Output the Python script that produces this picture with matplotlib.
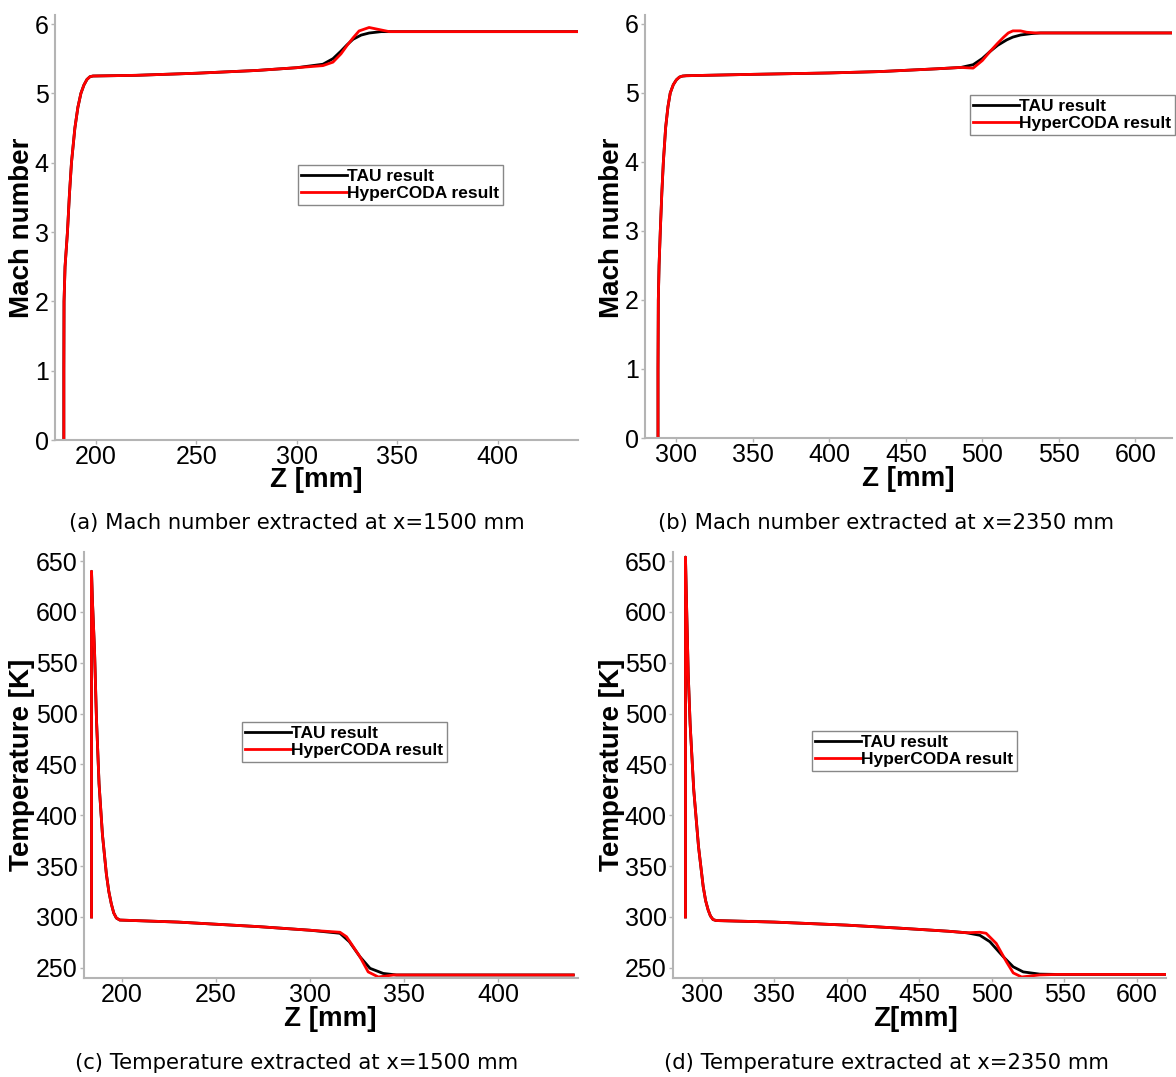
import matplotlib
matplotlib.use("Agg")
import matplotlib.pyplot as plt

# ---------------- data ----------------
# (a) Mach number at x=1500 mm
za_tau = [184, 184, 184.1, 184.6, 185.8, 186.8, 187.8, 189.5, 191, 192.5, 194, 195.5, 197, 198.5,
          220, 250, 280, 300, 313, 318, 322, 325, 328, 332, 336, 342, 350, 440]
ma_tau = [0, 1.0, 2.0, 2.5, 3.0, 3.55, 4.0, 4.5, 4.8, 5.0, 5.12, 5.2, 5.24, 5.25,
          5.26, 5.29, 5.33, 5.37, 5.42, 5.50, 5.61, 5.70, 5.78, 5.84, 5.87, 5.89, 5.89, 5.89]
za_hc = [184, 184, 184.1, 184.6, 185.8, 186.8, 187.8, 189.5, 191, 192.5, 194, 195.5, 197, 198.5,
         220, 250, 280, 300, 313, 318, 322, 325, 328, 331, 336, 341, 346, 440]
ma_hc = [0, 1.0, 2.0, 2.5, 3.0, 3.55, 4.0, 4.5, 4.8, 5.0, 5.12, 5.2, 5.24, 5.25,
         5.26, 5.29, 5.33, 5.37, 5.40, 5.45, 5.57, 5.69, 5.80, 5.90, 5.95, 5.92, 5.89, 5.89]

# (b) Mach number at x=2350 mm
zb_tau = [288, 288, 288.2, 288.7, 289.5, 290.5, 291.5, 293, 294.5, 296, 298, 300, 302, 304, 306.5,
          350, 400, 433, 470, 486, 494, 500, 505, 510, 516, 520, 525, 532, 538, 550, 624]
mb_tau = [0, 1.0, 2.0, 2.5, 3.0, 3.55, 4.0, 4.5, 4.8, 5.0, 5.12, 5.19, 5.23, 5.245, 5.25,
          5.27, 5.29, 5.31, 5.35, 5.37, 5.41, 5.50, 5.60, 5.69, 5.77, 5.81, 5.84, 5.86, 5.87, 5.87, 5.87]
zb_hc = [288, 288, 288.2, 288.7, 289.5, 290.5, 291.5, 293, 294.5, 296, 298, 300, 302, 304, 306.5,
         350, 400, 433, 470, 486, 494, 500, 505, 510, 514, 517, 520, 525, 529, 535, 624]
mb_hc = [0, 1.0, 2.0, 2.5, 3.0, 3.55, 4.0, 4.5, 4.8, 5.0, 5.12, 5.19, 5.23, 5.245, 5.25,
         5.27, 5.29, 5.31, 5.35, 5.37, 5.36, 5.47, 5.60, 5.72, 5.81, 5.87, 5.90, 5.90, 5.88, 5.87, 5.87]

# (c) Temperature at x=1500 mm
zc_tau = [184, 184, 184.5, 185.6, 186.6, 188, 189.8, 191.9, 193.2, 194.5, 195.8, 197.2, 199, 230, 273,
          300, 316, 321, 326.6, 332, 339, 346, 360, 440]
tc_tau = [300, 640, 610, 562, 496, 431, 381, 342, 325, 313, 304, 299, 297, 295, 290.5,
          287, 284, 275.7, 261, 249.5, 244.5, 243, 243, 243]
zc_hc = [184, 184, 184.5, 185.6, 186.6, 188, 189.8, 191.9, 193.2, 194.5, 195.8, 197.2, 199, 230, 273,
         300, 316, 319.5, 326.6, 331, 336.4, 344.6, 360, 440]
tc_hc = [300, 640, 610, 562, 496, 431, 381, 342, 325, 313, 304, 299, 297, 295, 290.5,
         287, 285, 280.6, 261, 246, 241, 243, 243, 243]

# (d) Temperature at x=2350 mm
zd_tau = [288.8, 288.8, 289.5, 290.7, 292, 294.5, 297.8, 301, 302.7, 304.4, 306, 307.8, 310, 350, 400,
          436.6, 470, 482.5, 491.7, 498.6, 507.8, 514.7, 521.6, 533, 545, 620]
td_tau = [300, 654, 610, 539, 490, 425, 369, 330, 316, 307, 301, 297.5, 296.5, 295, 292,
          289, 286, 284.5, 282, 275.7, 261, 251, 246, 243.8, 243.5, 243.5]
zd_hc = [288.8, 288.8, 289.5, 290.7, 292, 294.5, 297.8, 301, 302.7, 304.4, 306, 307.8, 310, 350, 400,
         436.6, 470, 482.5, 491.7, 496, 503, 510, 514.7, 520.5, 533, 545, 620]
td_hc = [300, 654, 610, 539, 490, 425, 369, 330, 316, 307, 301, 297.5, 296.5, 295, 292,
         289, 286, 284.5, 285, 284, 274, 256, 245, 241, 243, 243.5, 243.5]

series_labels = ["TAU result", "HyperCODA result"]
captions = ["(a) Mach number extracted at x=1500 mm",
            "(b) Mach number extracted at x=2350 mm",
            "(c) Temperature extracted at x=1500 mm",
            "(d) Temperature extracted at x=2350 mm"]
xlabels = ["Z [mm]", "Z [mm]", "Z [mm]", "Z[mm]"]
ylabels = ["Mach number", "Mach number", "Temperature [K]", "Temperature [K]"]
mach_ticks = [0, 1, 2, 3, 4, 5, 6]
temp_ticks = [250, 300, 350, 400, 450, 500, 550, 600, 650]
xticks_left = [200, 250, 300, 350, 400]
xticks_right = [300, 350, 400, 450, 500, 550, 600]

# ---------------- layout ----------------
W, H = 1176, 1077
fig = plt.figure(figsize=(W / 100, H / 100), dpi=100)

def px_axes(l, t, r, b):
    return fig.add_axes([l / W, 1 - b / H, (r - l) / W, (b - t) / H])

panels = [
    dict(box=(55, 15, 578, 440), data=(za_tau, ma_tau, za_hc, ma_hc), xlim=(179.6, 440),
         ylim=(0, 6.13), yt=mach_ticks, xt=xticks_left, leg=(298, 165),
         ylab=(22, 228), xlab=(316, 480), cap=(297, 523)),
    dict(box=(645, 15, 1172, 438), data=(zb_tau, mb_tau, zb_hc, mb_hc), xlim=(279.5, 624),
         ylim=(0, 6.13), yt=mach_ticks, xt=xticks_right, leg=(970, 95),
         ylab=(612, 228), xlab=(908, 479), cap=(886, 523)),
    dict(box=(84, 552, 578, 978), data=(zc_tau, tc_tau, zc_hc, tc_hc), xlim=(180, 442.5),
         ylim=(240, 659), yt=temp_ticks, xt=xticks_left, leg=(242, 722),
         ylab=(22, 765), xlab=(330, 1019), cap=(297, 1063)),
    dict(box=(673, 552, 1166, 978), data=(zd_tau, td_tau, zd_hc, td_hc), xlim=(280.2, 620),
         ylim=(240, 659), yt=temp_ticks, xt=xticks_right, leg=(812, 731),
         ylab=(612, 765), xlab=(916, 1019), cap=(886, 1063)),
]

spine_col = "#b4b4b4"
for i, p in enumerate(panels):
    ax = px_axes(*p["box"])
    z1, v1, z2, v2 = p["data"]
    ax.plot(z1, v1, color="black", lw=2.0, label=series_labels[0])
    ax.plot(z2, v2, color="#ff0000", lw=2.0, label=series_labels[1])
    ax.set_xlim(*p["xlim"])
    ax.set_ylim(*p["ylim"])
    ax.set_xticks(p["xt"])
    ax.set_yticks(p["yt"])
    for s in ["top", "right"]:
        ax.spines[s].set_visible(False)
    for s in ["left", "bottom"]:
        ax.spines[s].set_color(spine_col)
        ax.spines[s].set_linewidth(1.5)
    ax.tick_params(direction="out", length=3, width=1, color=spine_col, pad=1.5,
                   labelsize=18, labelcolor="black")
    ax.tick_params(axis="x", pad=0.5)
    for lab in ax.get_xticklabels() + ax.get_yticklabels():
        lab.set_fontfamily("Liberation Sans")
    lx, ly = p["leg"]
    leg = ax.legend(loc="upper left", bbox_to_anchor=(lx / W, 1 - ly / H),
                    bbox_transform=fig.transFigure, borderaxespad=0,
                    prop=dict(family="Liberation Sans", weight="bold", size=12.5),
                    frameon=True, fancybox=False, framealpha=1, edgecolor="#888888",
                    borderpad=0.2, labelspacing=0.15, handlelength=2.6,
                    handletextpad=0.05)
    leg.get_frame().set_linewidth(1.0)
    yx, yy = p["ylab"]
    fig.text(yx / W, 1 - yy / H, ylabels[i], rotation=90, ha="center", va="center",
             fontsize=20, fontweight="bold", family="Liberation Sans")
    xx, xy = p["xlab"]
    fig.text(xx / W, 1 - xy / H, xlabels[i], ha="center", va="center",
             fontsize=20, fontweight="bold", family="Liberation Sans")
    cx, cy = p["cap"]
    fig.text(cx / W, 1 - cy / H, captions[i], ha="center", va="center",
             fontsize=15.2, family="DejaVu Sans")

fig.savefig("out.png", dpi=100)
